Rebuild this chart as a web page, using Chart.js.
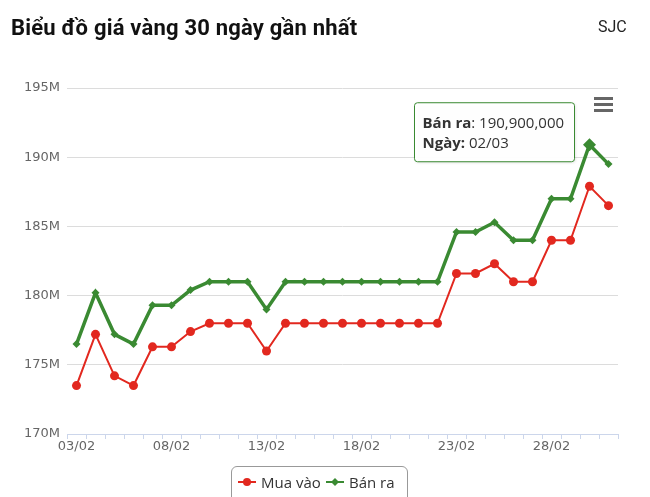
<!DOCTYPE html>
<html>
<head>
<meta charset="utf-8">
<script src="https://cdn.jsdelivr.net/npm/chart.js@4"></script>
<style>
  body { margin: 0; background: #fff; }
  #wrap { position: relative; width: 650px; height: 497px; overflow: hidden; }
  #title { position: absolute; left: 11px; top: 15px; font: bold 22px Roboto, sans-serif; letter-spacing: 0.2px; color: #111; }
  #brand { position: absolute; left: 598px; top: 17px; font: 16px Roboto, sans-serif; color: #222; }
  #legend { position: absolute; left: 231px; top: 466px; width: 177px; height: 40px;
    border: 1px solid #999; border-radius: 6px; box-sizing: border-box;
    font: 15px "Open Sans", sans-serif; color: #333; }
  .item { position: absolute; top: 5px; display: flex; align-items: center; }
  .item svg { margin-right: 5px; }
</style>
</head>
<body>
<div id="wrap">
  <canvas id="chart" width="650" height="497"></canvas>
  <div id="title">Biểu đồ giá vàng 30 ngày gần nhất</div>
  <div id="brand">SJC</div>
  <div id="legend"></div>
</div>
<script>
const categories = ["03/02","04/02","05/02","06/02","07/02","08/02","09/02","10/02","11/02","12/02",
  "13/02","14/02","15/02","16/02","17/02","18/02","19/02","20/02","21/02","22/02",
  "23/02","24/02","25/02","26/02","27/02","28/02","01/03","02/03","03/03"];
// million VND
const buyPrices = [173.5,177.2,174.2,173.5,176.3,176.3,177.4,178,178,178,
  176,178,178,178,178,178,178,178,178,178,
  181.6,181.6,182.3,181,181,184,184,187.9,186.5];
const sellPrices = [176.5,180.2,177.2,176.5,179.3,179.3,180.4,181,181,181,
  179,181,181,181,181,181,181,181,181,181,
  184.6,184.6,185.3,184,184,187,187,190.9,189.5];
const seriesNames = ["Mua vào", "Bán ra"];
const yTicks = [170,175,180,185,190,195];
const hoverIndex = 27;

const RED = "#e2281f";
const GREEN = "#3a8a32";

// legend in html
const legend = document.getElementById("legend");
legend.innerHTML = `
  <div class="item" style="left:6px">
    <svg width="18" height="12"><line x1="0" y1="6" x2="18" y2="6" stroke="${RED}" stroke-width="2"/><circle cx="9" cy="6" r="4" fill="${RED}"/></svg>${seriesNames[0]}
  </div>
  <div class="item" style="left:94px">
    <svg width="18" height="12"><line x1="0" y1="6" x2="18" y2="6" stroke="${GREEN}" stroke-width="2"/><polygon points="9,2 13,6 9,10 5,6" fill="${GREEN}"/></svg>${seriesNames[1]}
  </div>`;

const tooltipPlugin = {
  id: "fixedTooltip",
  afterDraw(chart) {
    const ctx = chart.ctx;
    const pt = chart.getDatasetMeta(1).data[hoverIndex];
    const bx = pt.x - 175, by = pt.y - 42, bw = 160, bh = 59;
    ctx.save();
    ctx.shadowColor = "rgba(0,0,0,0.12)";
    ctx.shadowOffsetX = 1;
    ctx.shadowOffsetY = 1;
    ctx.shadowBlur = 3;
    ctx.beginPath();
    ctx.roundRect(bx, by, bw, bh, 3);
    ctx.fillStyle = "rgba(255,255,255,0.97)";
    ctx.fill();
    ctx.shadowColor = "transparent";
    ctx.strokeStyle = GREEN;
    ctx.lineWidth = 1;
    ctx.stroke();
    ctx.fillStyle = "#333";
    ctx.textBaseline = "middle";
    let x = bx + 8;
    ctx.font = "bold 15px 'Open Sans'";
    ctx.fillText(seriesNames[1], x, by + 21);
    x += ctx.measureText(seriesNames[1]).width;
    ctx.font = "15px 'Open Sans'";
    ctx.fillText(": " + Math.round(sellPrices[hoverIndex] * 1e6).toLocaleString("en-US"), x, by + 21);
    x = bx + 8;
    ctx.font = "bold 15px 'Open Sans'";
    ctx.fillText("Ngày:", x, by + 41);
    x += ctx.measureText("Ngày:").width;
    ctx.font = "15px 'Open Sans'";
    ctx.fillText(" " + categories[hoverIndex], x, by + 41);
    ctx.restore();

    // menu icon
    ctx.save();
    ctx.fillStyle = "#666";
    [97, 103, 109].forEach(y => ctx.fillRect(594, y, 19, 3));
    ctx.restore();
  }
};

new Chart(document.getElementById("chart"), {
  type: "line",
  data: {
    labels: categories,
    datasets: [{
      label: seriesNames[0],
      data: buyPrices,
      borderColor: RED,
      backgroundColor: RED,
      borderWidth: 2,
      pointStyle: "circle",
      pointRadius: 4.5,
      pointBorderWidth: 0,
      tension: 0
    }, {
      label: seriesNames[1],
      data: sellPrices,
      borderColor: GREEN,
      backgroundColor: GREEN,
      borderWidth: 3.5,
      pointStyle: "rectRot",
      pointRadius: ctx => ctx.dataIndex === hoverIndex ? 6.5 : 4,
      pointBorderWidth: 0,
      tension: 0
    }]
  },
  options: {
    responsive: false,
    animation: false,
    layout: { padding: { top: 88, right: 32, bottom: 41, left: 0 } },
    plugins: { legend: { display: false }, tooltip: { enabled: false } },
    scales: {
      x: {
        offset: true,
        afterFit: s => { s.height = 22; },
        border: { color: "#ccd6eb" },
        grid: { offset: true, drawOnChartArea: false, drawTicks: true, tickLength: 5, color: "#ccd6eb" },
        ticks: {
          autoSkip: false, maxRotation: 0, padding: 0, color: "#666",
          font: { family: "DejaVu Sans", size: 13 },
          callback: (v, i) => i % 5 === 0 ? categories[i] : ""
        }
      },
      y: {
        min: yTicks[0],
        max: yTicks[yTicks.length - 1],
        afterFit: s => { s.width = 67; },
        afterBuildTicks: s => { s.ticks = yTicks.map(v => ({ value: v })); },
        border: { display: false },
        grid: { color: "#dcdcdc", drawTicks: false },
        ticks: {
          padding: 7, color: "#666",
          font: { family: "DejaVu Sans", size: 13 },
          callback: v => v + "M"
        }
      }
    }
  },
  plugins: [tooltipPlugin]
});
</script>
</body>
</html>
